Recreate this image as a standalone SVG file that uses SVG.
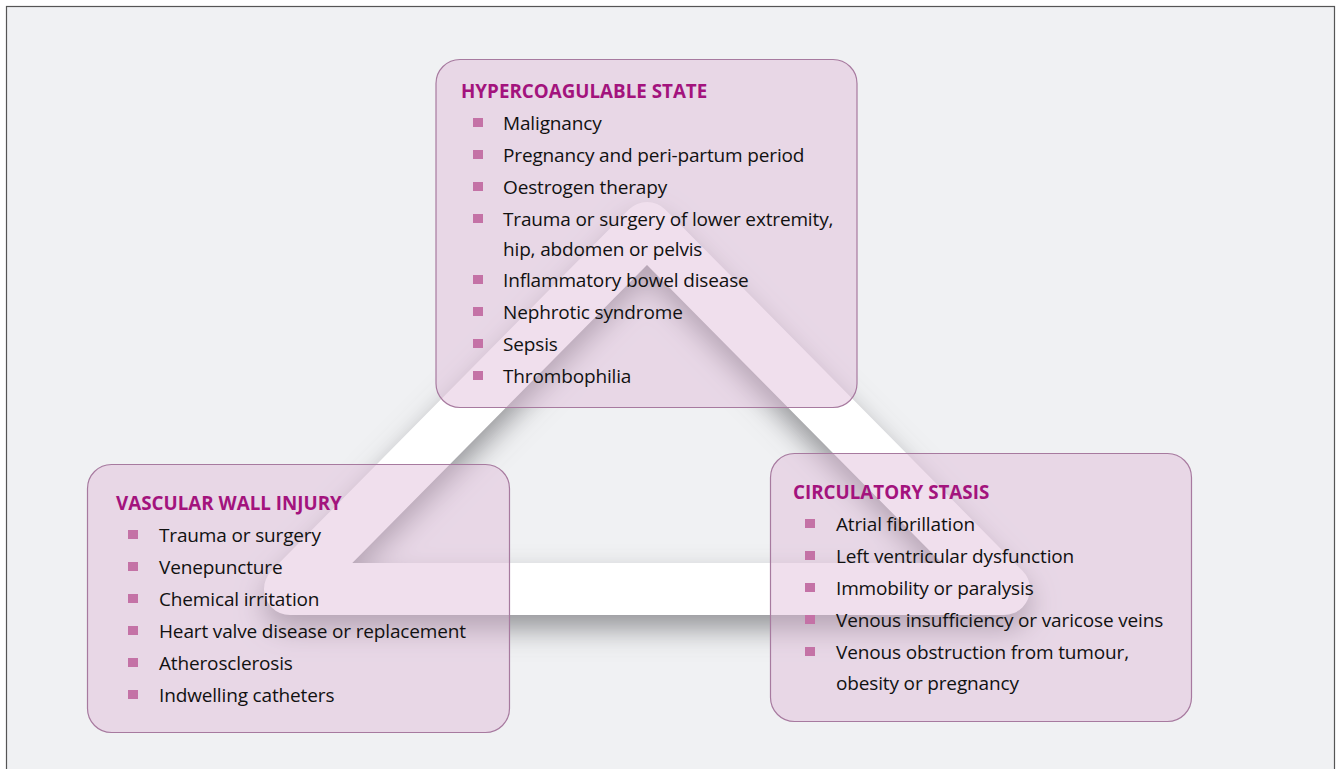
<svg xmlns="http://www.w3.org/2000/svg" width="1338" height="769" viewBox="0 0 1338 769">
<defs>
<filter id="sh" x="-20%" y="-20%" width="140%" height="150%">
<feGaussianBlur in="SourceAlpha" stdDeviation="14"/>
<feOffset dx="0" dy="14" result="b"/>
<feFlood flood-color="#6e6e72" flood-opacity="0.7"/>
<feComposite in2="b" operator="in"/>
</filter>
<style>
.box{fill:rgb(222,185,214);fill-opacity:0.45;stroke:#a77a9f;stroke-width:1.2}
.ttl{font-family:"Open Sans","Noto Sans",sans-serif;font-weight:700;font-size:18.8px;fill:#a3137d}
.it{font-family:"Open Sans","Noto Sans",sans-serif;font-size:19px;letter-spacing:-0.15px;fill:#111}
.bl{fill:#c472a6}
.tri{fill:none;stroke-width:52;stroke-linejoin:round}
</style>
</defs>
<rect x="0" y="0" width="1338" height="769" fill="#ffffff"/>
<rect x="6.5" y="6.5" width="1328" height="775" fill="#f0f1f3" stroke="#555" stroke-width="1.2"/>
<g id="triangle">
<polygon class="tri" points="647,228 290,589 1004,589" stroke="#000" filter="url(#sh)"/>
<polygon class="tri" points="647,228 290,589 1004,589" stroke="#ffffff"/>
</g>
<g id="connectors"></g>
<g id="hypercoagulable">
<rect class="box" x="436" y="59.5" width="421" height="348" rx="24"/>
<text class="ttl" x="461" y="98">HYPERCOAGULABLE STATE</text>
<rect class="bl" x="473" y="118" width="10" height="9"/><text class="it" x="503" y="130">Malignancy</text>
<rect class="bl" x="473" y="150" width="10" height="9"/><text class="it" x="503" y="162">Pregnancy and peri-partum period</text>
<rect class="bl" x="473" y="182" width="10" height="9"/><text class="it" x="503" y="194">Oestrogen therapy</text>
<rect class="bl" x="473" y="214" width="10" height="9"/><text class="it" x="503" y="226">Trauma or surgery of lower extremity,</text>
<text class="it" x="503" y="256">hip, abdomen or pelvis</text>
<rect class="bl" x="473" y="275" width="10" height="9"/><text class="it" x="503" y="287">Inflammatory bowel disease</text>
<rect class="bl" x="473" y="307" width="10" height="9"/><text class="it" x="503" y="319">Nephrotic syndrome</text>
<rect class="bl" x="473" y="339" width="10" height="9"/><text class="it" x="503" y="351">Sepsis</text>
<rect class="bl" x="473" y="371" width="10" height="9"/><text class="it" x="503" y="383">Thrombophilia</text>
</g>
<g id="vascular">
<rect class="box" x="87.5" y="464.5" width="422" height="268" rx="24"/>
<text class="ttl" x="116" y="510">VASCULAR WALL INJURY</text>
<rect class="bl" x="128" y="530" width="10" height="9"/><text class="it" x="159" y="542">Trauma or surgery</text>
<rect class="bl" x="128" y="562" width="10" height="9"/><text class="it" x="159" y="574">Venepuncture</text>
<rect class="bl" x="128" y="594" width="10" height="9"/><text class="it" x="159" y="606">Chemical irritation</text>
<rect class="bl" x="128" y="626" width="10" height="9"/><text class="it" x="159" y="638">Heart valve disease or replacement</text>
<rect class="bl" x="128" y="658" width="10" height="9"/><text class="it" x="159" y="670">Atherosclerosis</text>
<rect class="bl" x="128" y="690" width="10" height="9"/><text class="it" x="159" y="702">Indwelling catheters</text>
</g>
<g id="stasis">
<rect class="box" x="770.5" y="453.5" width="421" height="268" rx="24"/>
<text class="ttl" x="793" y="499">CIRCULATORY STASIS</text>
<rect class="bl" x="805" y="519" width="10" height="9"/><text class="it" x="836" y="531">Atrial fibrillation</text>
<rect class="bl" x="805" y="551" width="10" height="9"/><text class="it" x="836" y="563">Left ventricular dysfunction</text>
<rect class="bl" x="805" y="583" width="10" height="9"/><text class="it" x="836" y="595">Immobility or paralysis</text>
<rect class="bl" x="805" y="615" width="10" height="9"/><text class="it" x="836" y="627">Venous insufficiency or varicose veins</text>
<rect class="bl" x="805" y="647" width="10" height="9"/><text class="it" x="836" y="659">Venous obstruction from tumour,</text>
<text class="it" x="836" y="690">obesity or pregnancy</text>
</g>
</svg>
